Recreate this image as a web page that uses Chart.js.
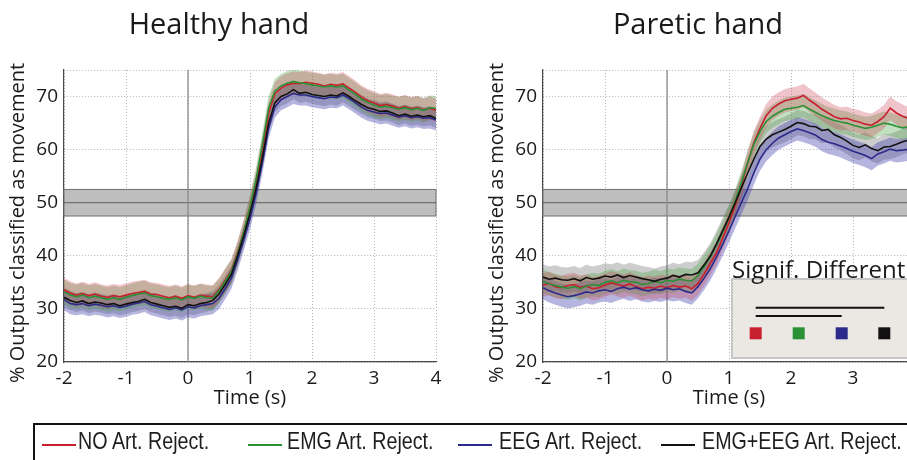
<!DOCTYPE html>
<html>
<head>
<meta charset="utf-8">
<script src="https://cdn.jsdelivr.net/npm/chart.js@4.4.1/dist/chart.umd.min.js"></script>
<style>
    html, body {
        margin: 0;
        padding: 0;
        background: #fff;
        width: 907px;
        height: 460px;
        overflow: hidden;
        position: relative;
    }
    canvas {
        position: absolute;
        top: 0;
    }
    #healthyChart { left: 0; }
    #pareticChart { left: 479px; }
    #legend {
        position: absolute;
        left: 33px;
        top: 423px;
        width: 920px;
        height: 60px;
        border: 2px solid #111;
        box-sizing: border-box;
    }
    .legend-line {
        position: absolute;
        top: 19px;
        width: 34px;
        height: 2px;
    }
    .legend-text {
        position: absolute;
        top: 4px;
        font: 24px "Liberation Sans", Arial, sans-serif;
        line-height: 24px;
        color: #1e1e1e;
        white-space: nowrap;
        transform: scaleX(0.82);
        transform-origin: 0 50%;
    }
</style>
</head>
<body>
<canvas id="healthyChart" width="460" height="460"></canvas>
<canvas id="pareticChart" width="460" height="460"></canvas>
<div id="legend"></div>

<script>
// time axis (s)
const times = [
    -2.0, -1.9, -1.8, -1.7, -1.6, -1.5, -1.4, -1.3, -1.2, -1.1,
    -1.0, -0.9, -0.8, -0.7, -0.6, -0.5, -0.4, -0.3, -0.2, -0.1,
    0.0, 0.1, 0.2, 0.3, 0.4, 0.5, 0.6, 0.7, 0.8, 0.9,
    1.0, 1.1, 1.2, 1.3, 1.4, 1.5, 1.6, 1.7, 1.8, 1.9,
    2.0, 2.1, 2.2, 2.3, 2.4, 2.5, 2.6, 2.7, 2.8, 2.9,
    3.0, 3.1, 3.2, 3.3, 3.4, 3.5, 3.6, 3.7, 3.8, 3.9,
    4.0,
];

const seriesNames = ["NO Art. Reject.", "EMG Art. Reject.", "EEG Art. Reject.", "EMG+EEG Art. Reject."];

// Healthy hand
const healthyNo = [
    33.6, 33.0, 32.6, 32.9, 32.5, 32.8, 32.4, 32.2, 32.5, 32.3,
    32.6, 32.9, 33.1, 33.3, 32.8, 32.7, 32.4, 32.1, 32.4, 32.0,
    32.5, 32.2, 32.6, 32.4, 32.3, 33.6, 35.4, 37.2, 40.6, 44.6,
    49.0, 54.0, 60.0, 66.8, 70.5, 71.6, 72.2, 72.5, 72.4, 72.7,
    72.5, 72.3, 72.0, 72.3, 72.1, 72.4, 71.6, 70.8, 69.9, 69.2,
    68.8, 68.3, 68.5, 68.2, 67.8, 68.1, 67.7, 67.9, 67.5, 67.8,
    67.4,
];
const healthyEmg = [
    33.2, 32.6, 32.3, 32.6, 32.1, 32.4, 32.1, 31.8, 32.1, 31.8,
    32.2, 32.5, 32.8, 33.0, 32.5, 32.3, 32.0, 31.8, 32.1, 31.7,
    32.3, 32.0, 32.4, 32.1, 32.0, 33.4, 35.2, 37.0, 40.4, 44.5,
    49.2, 54.5, 61.0, 67.8, 71.0, 72.0, 72.5, 72.8, 72.6, 72.4,
    72.2, 72.0, 71.8, 72.0, 71.8, 72.0, 71.2, 70.4, 69.5, 68.9,
    68.4, 68.0, 68.2, 67.9, 67.6, 67.9, 67.5, 67.8, 67.4, 67.9,
    67.8,
];
const healthyEeg = [
    31.8, 31.0, 30.8, 31.0, 30.6, 30.9, 30.7, 30.4, 30.6, 30.3,
    30.5, 30.9, 31.1, 31.4, 30.8, 30.5, 30.2, 29.9, 30.2, 29.8,
    30.4, 30.2, 30.6, 30.8, 31.0, 32.0, 33.8, 35.8, 39.2, 43.0,
    47.0, 51.8, 57.5, 64.0, 68.0, 69.4, 70.0, 70.6, 70.3, 70.3,
    70.0, 69.8, 69.6, 69.9, 69.8, 70.3, 69.6, 68.8, 68.0, 67.4,
    67.1, 66.8, 66.9, 66.5, 66.1, 66.4, 66.0, 66.2, 65.9, 66.0,
    65.6,
];
const healthyBoth = [
    32.2, 31.6, 31.2, 31.5, 31.0, 31.3, 31.1, 30.8, 31.0, 30.6,
    30.9, 31.2, 31.4, 31.8, 31.2, 30.9, 30.6, 30.3, 30.5, 30.1,
    30.8, 30.6, 31.0, 31.2, 31.6, 32.8, 34.6, 36.5, 40.0, 43.8,
    48.0, 52.8, 58.5, 65.0, 68.8, 70.0, 70.5, 71.3, 70.6, 70.8,
    70.4, 70.2, 70.0, 70.3, 70.1, 70.7, 70.0, 69.2, 68.5, 67.9,
    67.6, 67.2, 67.3, 66.9, 66.4, 66.7, 66.3, 66.5, 66.2, 66.4,
    65.9,
];
const healthySpread = [2.2, 2.3, 2.0, 1.8];

// Paretic hand
const pareticNo = [
    34.5, 34.8, 34.2, 34.0, 34.4, 34.6, 34.1, 34.3, 33.8, 34.0,
    34.5, 34.9, 34.6, 34.3, 34.7, 34.2, 33.8, 34.1, 33.9, 34.3,
    34.0, 34.4, 34.1, 34.3, 33.8, 34.8, 36.6, 38.6, 40.6, 43.4,
    46.3, 49.5, 53.2, 57.5, 61.3, 64.0, 66.4, 67.8, 68.6, 69.2,
    69.5, 69.7, 70.2, 69.3, 68.5, 67.6, 66.9, 66.2, 65.8, 65.9,
    65.5, 65.2, 64.8, 64.6, 65.3, 66.2, 67.8, 66.9, 66.3, 65.8,
    65.5,
];
const pareticEmg = [
    35.2, 34.7, 34.4, 34.1, 33.9, 34.2, 33.8, 34.3, 34.6, 34.4,
    35.0, 35.3, 34.9, 35.4, 35.1, 35.0, 34.6, 34.8, 35.2, 34.9,
    35.4, 35.2, 35.6, 35.4, 35.3, 36.3, 38.0, 39.8, 42.0, 44.5,
    47.2, 50.3, 53.8, 57.6, 61.0, 63.4, 65.3, 66.3, 67.0, 67.6,
    67.8, 68.0, 68.3, 67.6, 67.0, 66.4, 65.9, 65.5, 65.2, 65.0,
    64.6, 64.3, 64.0, 64.2, 64.6, 65.0, 64.8, 64.4, 64.1, 64.3,
    64.0,
];
const pareticEeg = [
    34.0, 33.4, 33.0, 32.6, 32.3, 32.5, 32.8, 33.2, 33.0, 33.4,
    33.6, 33.3, 33.8, 34.1, 33.7, 34.0, 33.6, 33.4, 33.7, 33.5,
    33.9, 33.6, 33.8, 33.3, 33.0, 34.2, 35.8, 37.6, 39.8, 42.2,
    44.7, 47.4, 50.0, 52.6, 55.6, 58.2, 60.0, 61.2, 62.2, 62.8,
    63.4, 63.9, 63.6, 63.2, 62.7, 61.9, 61.4, 61.1, 60.7, 60.2,
    59.7, 59.3, 58.9, 58.3, 59.2, 59.6, 60.1, 59.8, 59.9, 60.1,
    60.0,
];
const pareticBoth = [
    36.0, 35.6, 35.8, 35.5, 35.4, 35.7, 35.3, 35.9, 35.6, 35.8,
    36.2, 36.0, 36.4, 35.9, 36.3, 36.0, 35.7, 35.5, 35.2, 35.6,
    35.8, 36.3, 36.0, 36.5, 36.4, 36.8, 38.3, 40.0, 42.3, 44.8,
    47.3, 50.0, 52.8, 55.5, 58.2, 60.6, 62.0, 62.8, 63.3, 63.8,
    64.4, 65.1, 64.9, 64.4, 64.3, 63.6, 63.8, 62.8, 62.3, 61.6,
    60.8, 60.4, 60.9, 60.2, 59.8, 60.5, 60.6, 61.0, 61.5, 61.8,
    62.0,
];
const pareticSpread = [2.2, 2.2, 2.2, 2.4];

// axes
const xTicks = [-2, -1, 0, 1, 2, 3, 4];
const yTicks = [20, 30, 40, 50, 60, 70, 75];
const yMin = 20;
const yMax = 75;
const chanceBand = [47.5, 52.5];
const chanceLevel = 50;
const onsetTime = 0;

// significant pairs (indexes into seriesNames), paretic hand only
const sigPairs = [[0, 3], [0, 2]];

const lineColors = ["#c8202f", "#2a9135", "#2b2a8c", "#111111"];
const bandColors = [
    "rgba(205, 70, 90, 0.32)",
    "rgba(70, 165, 70, 0.34)",
    "rgba(60, 60, 170, 0.38)",
    "rgba(100, 100, 100, 0.32)",
];
const lineOrder = [3, 2, 1, 0];

const FONT = "'Open Sans', 'Noto Sans', sans-serif";
const TEXT = "#1a1a1a";

function buildDatasets(series, spreads) {
    const datasets = [];

    series.forEach((values, i) => {
        datasets.push({
            data: times.map((t, k) => ({ x: t, y: values[k] })),
            borderColor: lineColors[i],
            borderWidth: 1.6,
            pointRadius: 0,
            fill: false,
            tension: 0,
            order: lineOrder[i],
        });
    });

    series.forEach((values, i) => {
        datasets.push({
            data: times.map((t, k) => ({ x: t, y: values[k] + spreads[i] })),
            borderColor: "rgba(0,0,0,0)",
            borderWidth: 0,
            pointRadius: 0,
            backgroundColor: bandColors[i],
            fill: "+1",
            order: 10,
        });
        datasets.push({
            data: times.map((t, k) => ({ x: t, y: values[k] - spreads[i] })),
            borderColor: "rgba(0,0,0,0)",
            borderWidth: 0,
            pointRadius: 0,
            fill: false,
            order: 10,
        });
    });

    return datasets;
}

const decorPlugin = {
    id: "decor",

    beforeDatasetsDraw(chart) {
        const { ctx, chartArea: a, scales } = chart;
        const x = scales.x;
        const y = scales.y;

        ctx.save();
        const top = y.getPixelForValue(chanceBand[1]);
        const bottom = y.getPixelForValue(chanceBand[0]);
        ctx.fillStyle = "#bebebe";
        ctx.fillRect(a.left, top, a.right - a.left, bottom - top);
        ctx.strokeStyle = "#707070";
        ctx.lineWidth = 1;
        ctx.strokeRect(a.left, top, a.right - a.left, bottom - top);

        const mid = y.getPixelForValue(chanceLevel);
        ctx.strokeStyle = "#5e5e5e";
        ctx.beginPath();
        ctx.moveTo(a.left, mid);
        ctx.lineTo(a.right, mid);
        ctx.stroke();

        const x0 = x.getPixelForValue(onsetTime);
        ctx.strokeStyle = "#8a8a8a";
        ctx.lineWidth = 1.3;
        ctx.beginPath();
        ctx.moveTo(x0, a.top);
        ctx.lineTo(x0, a.bottom);
        ctx.stroke();
        ctx.restore();
    },

    afterDraw(chart, args, opts) {
        const { ctx, chartArea: a } = chart;

        ctx.save();
        ctx.fillStyle = TEXT;

        // panel title
        ctx.font = "29px " + FONT;
        ctx.textAlign = "center";
        ctx.textBaseline = "middle";
        ctx.fillText(opts.title, a.left + 155, 26);

        // y axis label
        ctx.font = "20px " + FONT;
        ctx.translate(18, 223);
        ctx.rotate(-Math.PI / 2);
        ctx.fillText("% Outputs classified as movement", 0, 0);
        ctx.restore();

        if (opts.inset) {
            drawInset(chart);
        }
    },
};

function drawInset(chart) {
    const { ctx } = chart;
    const boxLeft = 253;
    const boxTop = 279;
    const boxBottom = 358;

    ctx.save();
    ctx.fillStyle = "#ebe7e2";
    ctx.fillRect(boxLeft, boxTop, 400, boxBottom - boxTop);
    ctx.strokeStyle = "#c6c6c6";
    ctx.lineWidth = 2;
    ctx.strokeRect(boxLeft, boxTop, 400, boxBottom - boxTop);

    ctx.fillStyle = TEXT;
    ctx.font = "24px " + FONT;
    ctx.textAlign = "left";
    ctx.textBaseline = "alphabetic";
    ctx.fillText("Signif. Different", boxLeft, boxTop - 1);

    const squareX = [276.7, 319.7, 362.7, 405.3];
    const squareY = 333.3;
    const size = 12;

    ctx.strokeStyle = "#111";
    ctx.lineWidth = 2;
    sigPairs.forEach((pair, i) => {
        const ly = 307.7 + i * 8.3;
        ctx.beginPath();
        ctx.moveTo(squareX[pair[0]], ly);
        ctx.lineTo(squareX[pair[1]], ly);
        ctx.stroke();
    });

    seriesNames.forEach((name, i) => {
        ctx.fillStyle = lineColors[i];
        ctx.fillRect(squareX[i] - size / 2, squareY - size / 2, size, size);
    });
    ctx.restore();
}

function createPanel(elementId, title, series, spreads, inset) {
    const canvas = document.getElementById(elementId);

    new Chart(canvas.getContext("2d"), {
        type: "line",

        data: {
            datasets: buildDatasets(series, spreads),
        },

        options: {
            responsive: false,
            animation: false,
            events: [],

            layout: {
                padding: { top: 70, right: 24, bottom: 50, left: 0 },
            },

            scales: {
                x: {
                    type: "linear",
                    min: xTicks[0],
                    max: xTicks[xTicks.length - 1],
                    afterFit: (s) => { s.height = 48; },
                    afterBuildTicks: (s) => { s.ticks = xTicks.map((v) => ({ value: v })); },
                    ticks: {
                        padding: 5,
                        color: TEXT,
                        font: { family: FONT, size: 19 },
                        maxRotation: 0,
                        callback: (v) => String(v),
                    },
                    grid: { color: "#b4b4b4", lineWidth: 1, drawTicks: false },
                    border: { display: true, color: "#4a4a4a", width: 1.2, dash: [1, 2] },
                    title: {
                        display: true,
                        text: "Time (s)",
                        color: TEXT,
                        font: { family: FONT, size: 20 },
                        padding: { top: 0, bottom: 0 },
                    },
                },
                y: {
                    min: yMin,
                    max: yMax,
                    afterFit: (s) => { s.width = 64; },
                    afterBuildTicks: (s) => { s.ticks = yTicks.map((v) => ({ value: v })); },
                    ticks: {
                        padding: 6,
                        color: TEXT,
                        font: { family: FONT, size: 19 },
                        callback: (v) => (v === yMax ? "" : String(v)),
                    },
                    grid: { color: "#b4b4b4", lineWidth: 1, drawTicks: false },
                    border: { display: true, color: "#4a4a4a", width: 1.2, dash: [1, 2] },
                },
            },

            plugins: {
                legend: { display: false },
                tooltip: { enabled: false },
                decor: { title: title, inset: inset },
            },
        },

        plugins: [decorPlugin],
    });
}

function buildLegend() {
    const legend = document.getElementById("legend");
    const lineLeft = [42, 248, 458, 661];
    const textLeft = [78, 287, 499, 702];

    seriesNames.forEach((name, i) => {
        const line = document.createElement("div");
        line.className = "legend-line";
        line.style.left = (lineLeft[i] - 35) + "px";
        line.style.background = lineColors[i];
        legend.appendChild(line);

        const text = document.createElement("div");
        text.className = "legend-text";
        text.style.left = (textLeft[i] - 35) + "px";
        text.textContent = name;
        legend.appendChild(text);
    });
}

createPanel("healthyChart", "Healthy hand",
    [healthyNo, healthyEmg, healthyEeg, healthyBoth], healthySpread, false);
createPanel("pareticChart", "Paretic hand",
    [pareticNo, pareticEmg, pareticEeg, pareticBoth], pareticSpread, true);
buildLegend();
</script>
</body>
</html>
